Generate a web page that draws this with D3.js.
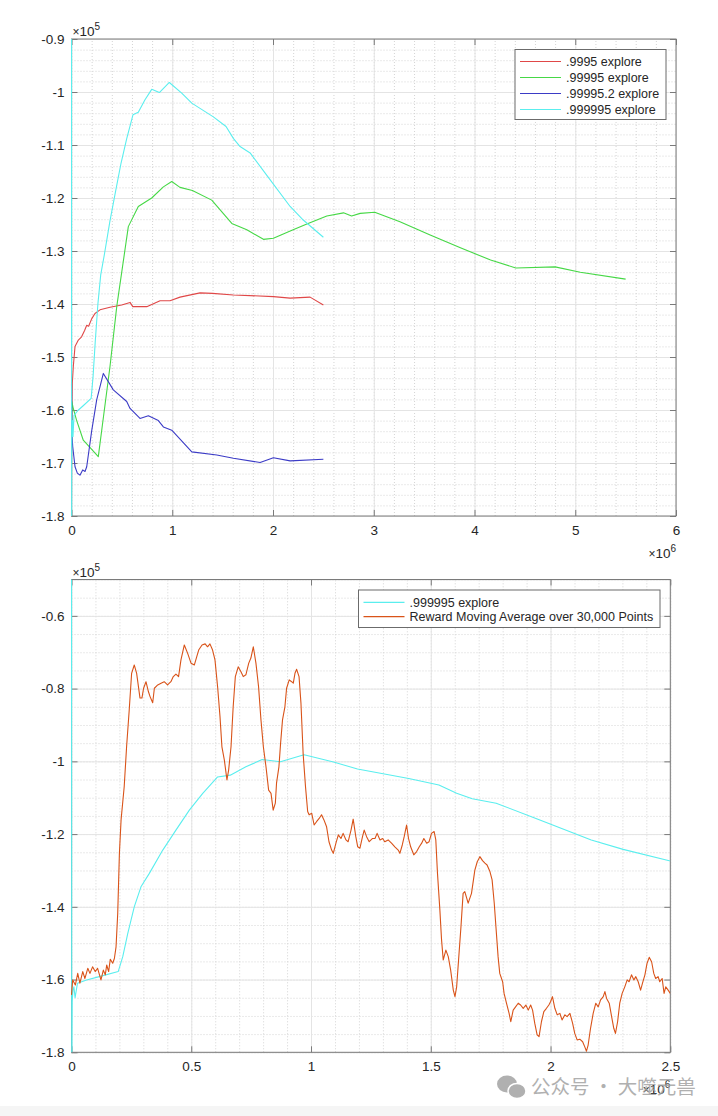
<!DOCTYPE html>
<html>
<head>
<meta charset="utf-8">
<script src="https://cdn.jsdelivr.net/npm/d3@7"></script>
<style>
  body { margin: 0; background: #fff; }
  svg { display: block; font-family: "Liberation Sans", Arial, Helvetica, sans-serif; }
</style>
</head>
<body>
<script>
// x values in units of 1e6 steps, y values in units of 1e5 reward

// top plot ticks
var topXTicks = [0, 1, 2, 3, 4, 5, 6];
var topYTicks = [-1.8, -1.7, -1.6, -1.5, -1.4, -1.3, -1.2, -1.1, -1, -0.9];
// bottom plot ticks
var botXTicks = [0, 0.5, 1, 1.5, 2, 2.5];
var botYTicks = [-1.8, -1.6, -1.4, -1.2, -1, -0.8, -0.6];

var topLegend = [".9995 explore", ".99995 explore", ".99995.2 explore", ".999995 explore"];
var botLegend = [".999995 explore", "Reward Moving Average over 30,000 Points"];

var explore9995 = [[0,-1.8],[0.003,-1.62],[0.008,-1.55],[0.018,-1.518],[0.035,-1.48],[0.068,-1.468],
  [0.1,-1.462],[0.13,-1.45],[0.151,-1.44],[0.17,-1.442],[0.2,-1.428],[0.233,-1.418],[0.283,-1.411],
  [0.382,-1.406],[0.498,-1.402],[0.581,-1.397],[0.608,-1.405],[0.747,-1.405],[0.879,-1.394],
  [0.978,-1.394],[1.077,-1.387],[1.276,-1.379],[1.4,-1.38],[1.607,-1.383],[2.004,-1.386],
  [2.17,-1.389],[2.368,-1.387],[2.5,-1.402]];

var explore99995 = [[0,-1.65],[0.004,-1.584],[0.015,-1.595],[0.05,-1.619],[0.117,-1.657],[0.266,-1.688],
  [0.382,-1.518],[0.449,-1.405],[0.564,-1.254],[0.663,-1.216],[0.796,-1.2],[0.912,-1.179],[0.995,-1.169],
  [1.077,-1.18],[1.2,-1.186],[1.392,-1.204],[1.591,-1.248],[1.74,-1.26],[1.905,-1.278],[2.004,-1.276],[2.2,-1.26],
  [2.336,-1.249],[2.534,-1.234],[2.7,-1.228],[2.78,-1.234],[2.865,-1.229],[3.01,-1.227],[3.26,-1.245],
  [3.56,-1.27],[3.86,-1.294],[4.16,-1.317],[4.41,-1.332],[4.8,-1.33],[5.05,-1.34],[5.5,-1.353]];

var explore99995_2 = [[0,-1.55],[0.002,-1.6],[0.004,-1.644],[0.012,-1.669],[0.035,-1.707],[0.058,-1.719],
  [0.084,-1.723],[0.111,-1.713],[0.134,-1.716],[0.151,-1.707],[0.2,-1.64],[0.25,-1.581],[0.316,-1.531],
  [0.415,-1.562],[0.548,-1.584],[0.581,-1.597],[0.68,-1.616],[0.763,-1.611],[0.862,-1.62],[0.912,-1.632],
  [0.995,-1.638],[1.194,-1.679],[1.442,-1.685],[1.607,-1.691],[1.872,-1.699],[2.004,-1.69],[2.17,-1.696],
  [2.5,-1.693]];

var explore999995 = [[0,-0.3],[0.001,-1.9],[0.003,-1.66],[0.006,-1.63],[0.01,-1.62],[0.015,-1.65],
  [0.025,-1.61],[0.063,-1.601],[0.116,-1.592],[0.195,-1.578],[0.214,-1.537],[0.235,-1.473],[0.262,-1.4],
  [0.29,-1.345],[0.325,-1.308],[0.381,-1.244],[0.436,-1.189],[0.492,-1.134],[0.548,-1.088],[0.61,-1.043],
  [0.663,-1.038],[0.728,-1.015],[0.796,-0.995],[0.872,-1.001],[0.971,-0.982],[1.094,-1.002],[1.194,-1.021],
  [1.408,-1.047],[1.534,-1.065],[1.608,-1.088],[1.673,-1.103],[1.773,-1.115],[1.95,-1.16],[2.17,-1.216],
  [2.303,-1.242],[2.5,-1.274]];

var rewardMovingAvg = [[0,-1.642],[0.005,-1.601],[0.016,-1.615],[0.026,-1.583],[0.035,-1.61],[0.047,-1.578],
  [0.056,-1.597],[0.068,-1.569],[0.077,-1.583],[0.088,-1.565],[0.099,-1.578],[0.109,-1.569],[0.123,-1.601],
  [0.133,-1.574],[0.141,-1.587],[0.147,-1.56],[0.155,-1.578],[0.162,-1.544],[0.172,-1.555],[0.179,-1.542],
  [0.186,-1.51],[0.193,-1.418],[0.2,-1.253],[0.207,-1.161],[0.22,-1.07],[0.23,-0.96],[0.241,-0.859],
  [0.251,-0.758],[0.262,-0.735],[0.272,-0.758],[0.286,-0.826],[0.294,-0.826],[0.301,-0.799],[0.311,-0.781],
  [0.321,-0.808],[0.328,-0.822],[0.339,-0.839],[0.346,-0.799],[0.36,-0.79],[0.374,-0.785],[0.387,-0.781],
  [0.401,-0.79],[0.415,-0.781],[0.425,-0.767],[0.436,-0.76],[0.447,-0.767],[0.457,-0.721],[0.471,-0.68],
  [0.485,-0.703],[0.499,-0.73],[0.513,-0.735],[0.523,-0.712],[0.531,-0.694],[0.545,-0.68],[0.558,-0.677],
  [0.568,-0.685],[0.578,-0.677],[0.589,-0.694],[0.599,-0.721],[0.61,-0.795],[0.62,-0.877],[0.628,-0.96],
  [0.638,-0.996],[0.649,-1.051],[0.656,-1.024],[0.666,-0.96],[0.675,-0.85],[0.684,-0.767],[0.696,-0.74],
  [0.707,-0.753],[0.717,-0.767],[0.728,-0.762],[0.74,-0.73],[0.749,-0.716],[0.759,-0.685],[0.77,-0.73],
  [0.781,-0.795],[0.791,-0.886],[0.801,-0.96],[0.812,-1.015],[0.823,-1.079],[0.833,-1.088],[0.842,-1.134],
  [0.851,-1.115],[0.856,-1.06],[0.866,-1.015],[0.873,-0.95],[0.881,-0.886],[0.891,-0.85],[0.898,-0.799],
  [0.909,-0.776],[0.919,-0.781],[0.926,-0.785],[0.933,-0.758],[0.94,-0.747],[0.95,-0.767],[0.958,-0.84],
  [0.967,-0.978],[0.977,-1.07],[0.986,-1.138],[0.992,-1.147],[1.003,-1.143],[1.013,-1.175],[1.023,-1.166],
  [1.034,-1.157],[1.044,-1.147],[1.054,-1.161],[1.065,-1.18],[1.075,-1.221],[1.086,-1.244],[1.093,-1.253],
  [1.104,-1.225],[1.114,-1.202],[1.125,-1.212],[1.134,-1.198],[1.146,-1.216],[1.155,-1.221],[1.167,-1.189],
  [1.176,-1.159],[1.187,-1.207],[1.195,-1.235],[1.204,-1.239],[1.215,-1.207],[1.222,-1.189],[1.232,-1.207],
  [1.243,-1.221],[1.257,-1.212],[1.267,-1.212],[1.276,-1.198],[1.288,-1.216],[1.299,-1.212],[1.308,-1.221],
  [1.322,-1.216],[1.336,-1.225],[1.35,-1.235],[1.364,-1.244],[1.371,-1.253],[1.381,-1.23],[1.389,-1.207],
  [1.399,-1.175],[1.407,-1.212],[1.416,-1.235],[1.429,-1.257],[1.441,-1.248],[1.452,-1.235],[1.462,-1.225],
  [1.471,-1.212],[1.483,-1.225],[1.493,-1.221],[1.503,-1.198],[1.514,-1.193],[1.521,-1.216],[1.528,-1.308],
  [1.538,-1.409],[1.545,-1.491],[1.552,-1.546],[1.563,-1.519],[1.573,-1.537],[1.583,-1.574],[1.594,-1.629],
  [1.601,-1.647],[1.608,-1.62],[1.617,-1.537],[1.626,-1.455],[1.635,-1.363],[1.642,-1.358],[1.656,-1.39],
  [1.67,-1.363],[1.684,-1.299],[1.694,-1.276],[1.705,-1.262],[1.716,-1.273],[1.726,-1.28],[1.735,-1.285],
  [1.747,-1.303],[1.756,-1.326],[1.765,-1.39],[1.772,-1.455],[1.781,-1.537],[1.788,-1.583],[1.8,-1.606],
  [1.806,-1.638],[1.816,-1.665],[1.827,-1.693],[1.834,-1.716],[1.844,-1.684],[1.854,-1.675],[1.865,-1.665],
  [1.875,-1.67],[1.886,-1.679],[1.897,-1.67],[1.907,-1.684],[1.917,-1.67],[1.925,-1.684],[1.934,-1.72],
  [1.944,-1.752],[1.952,-1.757],[1.962,-1.716],[1.972,-1.688],[1.983,-1.679],[1.993,-1.67],[2.0,-1.661],
  [2.008,-1.647],[2.018,-1.679],[2.028,-1.697],[2.039,-1.693],[2.048,-1.711],[2.06,-1.697],[2.069,-1.702],
  [2.081,-1.693],[2.092,-1.72],[2.101,-1.748],[2.111,-1.766],[2.122,-1.764],[2.134,-1.771],[2.143,-1.785],
  [2.15,-1.797],[2.157,-1.78],[2.167,-1.734],[2.178,-1.693],[2.189,-1.665],[2.199,-1.675],[2.209,-1.656],
  [2.22,-1.647],[2.227,-1.633],[2.234,-1.652],[2.245,-1.665],[2.255,-1.702],[2.264,-1.734],[2.271,-1.748],
  [2.28,-1.716],[2.289,-1.665],[2.299,-1.638],[2.31,-1.62],[2.32,-1.601],[2.328,-1.606],[2.338,-1.587],
  [2.348,-1.601],[2.356,-1.592],[2.366,-1.606],[2.376,-1.629],[2.384,-1.61],[2.394,-1.587],[2.403,-1.555],
  [2.412,-1.539],[2.422,-1.551],[2.431,-1.583],[2.439,-1.597],[2.449,-1.592],[2.456,-1.606],[2.466,-1.597],
  [2.474,-1.638],[2.481,-1.62],[2.491,-1.629],[2.5,-1.638]];

var red = "#e04848", green = "#46d846", blue = "#3b3bc6", cyan = "#5aeeee", orange = "#d95319";
var axisCol = "#7a7a7a", textCol = "#262626";

var width = 718, height = 1116;

// plain hyphen minus like MATLAB, not d3's unicode minus
var fmt = function(d) { return String(d); };

var svg = d3.select("body").append("svg")
    .attr("width", width)
    .attr("height", height);

svg.append("rect").attr("width", width).attr("height", height).attr("fill", "#fff");
svg.append("rect").attr("y", 1106).attr("width", width).attr("height", 10).attr("fill", "#f5f5f5");

function drawPanel(cfg) {
  var x = d3.scaleLinear().domain(cfg.xDomain).range([cfg.left, cfg.right]);
  var y = d3.scaleLinear().domain(cfg.yDomain).range([cfg.bottom, cfg.top]);
  var w = cfg.right - cfg.left, h = cfg.bottom - cfg.top;
  var g = svg.append("g");

  // minor grid (dotted)
  g.append("g").attr("transform", "translate(0," + cfg.bottom + ")")
    .call(d3.axisBottom(x).tickValues(cfg.xMinor).tickSize(-h).tickFormat(""))
    .call(s => s.select(".domain").remove())
    .selectAll("line").attr("stroke", "#d4d4d4").attr("stroke-dasharray", "1,2");
  g.append("g").attr("transform", "translate(" + cfg.left + ",0)")
    .call(d3.axisLeft(y).tickValues(cfg.yMinor).tickSize(-w).tickFormat(""))
    .call(s => s.select(".domain").remove())
    .selectAll("line").attr("stroke", "#d4d4d4").attr("stroke-dasharray", "1,2");

  // major grid
  g.append("g").attr("transform", "translate(0," + cfg.bottom + ")")
    .call(d3.axisBottom(x).tickValues(cfg.xTicks).tickSize(-h).tickFormat(""))
    .call(s => s.select(".domain").remove())
    .selectAll("line").attr("stroke", "#e4e4e4");
  g.append("g").attr("transform", "translate(" + cfg.left + ",0)")
    .call(d3.axisLeft(y).tickValues(cfg.yTicks).tickSize(-w).tickFormat(""))
    .call(s => s.select(".domain").remove())
    .selectAll("line").attr("stroke", "#e4e4e4");

  // box
  g.append("rect")
    .attr("x", cfg.left).attr("y", cfg.top).attr("width", w).attr("height", h)
    .attr("fill", "none").attr("stroke", axisCol);

  // tick marks + labels
  var xb = g.append("g").attr("transform", "translate(0," + cfg.bottom + ")")
    .call(d3.axisBottom(x).tickValues(cfg.xTicks).tickSize(-6).tickPadding(9).tickFormat(fmt));
  var xt = g.append("g").attr("transform", "translate(0," + cfg.top + ")")
    .call(d3.axisTop(x).tickValues(cfg.xTicks).tickSize(-6).tickFormat(""));
  var yl = g.append("g").attr("transform", "translate(" + cfg.left + ",0)")
    .call(d3.axisLeft(y).tickValues(cfg.yTicksLabelled).tickSize(-6).tickPadding(7).tickFormat(fmt));
  var yr = g.append("g").attr("transform", "translate(" + cfg.right + ",0)")
    .call(d3.axisRight(y).tickValues(cfg.yTicksLabelled).tickSize(-6).tickFormat(""));
  [xb, xt, yl, yr].forEach(function(a) {
    a.select(".domain").remove();
    a.selectAll("line").attr("stroke", axisCol);
    a.selectAll("text").attr("fill", textCol).attr("font-size", 13.5)
      .attr("font-family", "'Liberation Sans', Arial, sans-serif");
  });

  // exponent labels
  var ty = g.append("text").attr("x", cfg.left + 1).attr("y", cfg.top - 3)
    .attr("font-size", 13.5).attr("fill", textCol);
  ty.append("tspan").text("\u00d7").attr("font-size", 12);
  ty.append("tspan").text("10");
  ty.append("tspan").text(cfg.yExp).attr("font-size", 10).attr("dy", -6);

  var tx = g.append("text").attr("x", cfg.right).attr("y", cfg.bottom + 42)
    .attr("text-anchor", "end").attr("font-size", 13.5).attr("fill", textCol);
  tx.append("tspan").text("\u00d7").attr("font-size", 12);
  tx.append("tspan").text("10");
  tx.append("tspan").text(cfg.xExp).attr("font-size", 10).attr("dy", -6);

  // data lines
  var clipId = "clip" + cfg.id;
  svg.append("clipPath").attr("id", clipId).append("rect")
    .attr("x", cfg.left - 1).attr("y", cfg.top).attr("width", w + 1).attr("height", h);

  var line = d3.line().x(d => x(d[0])).y(d => y(d[1]));
  var lines = g.append("g").attr("clip-path", "url(#" + clipId + ")");
  cfg.series.forEach(function(s) {
    lines.append("path")
      .datum(s.data)
      .attr("d", line)
      .attr("fill", "none")
      .attr("stroke", s.color)
      .attr("stroke-width", 1.1)
      .attr("stroke-linejoin", "round");
  });

  // legend
  var L = cfg.legend;
  var lg = g.append("g");
  lg.append("rect").attr("x", L.x).attr("y", L.y).attr("width", L.w).attr("height", L.h)
    .attr("fill", "#fff").attr("stroke", "#6b6b6b");
  cfg.series.forEach(function(s, i) {
    var yy = L.y + L.first + i * L.step;
    lg.append("line").attr("x1", L.x + 5).attr("x2", L.x + 46).attr("y1", yy).attr("y2", yy)
      .attr("stroke", s.color).attr("stroke-width", 1.2);
    lg.append("text").attr("x", L.x + 51).attr("y", yy).attr("dy", "0.35em")
      .attr("font-size", 12.5).attr("fill", textCol).text(s.label);
  });
}

drawPanel({
  id: "top",
  left: 71.5, right: 676, top: 39, bottom: 516,
  xDomain: [0, 6], yDomain: [-1.8, -0.9],
  xTicks: topXTicks, yTicks: topYTicks, yTicksLabelled: topYTicks,
  xMinor: d3.range(0, 6.001, 0.2), yMinor: d3.range(-1.8, -0.899, 0.02),
  xExp: "6", yExp: "5",
  series: [
    { data: explore9995, color: red, label: topLegend[0] },
    { data: explore99995, color: green, label: topLegend[1] },
    { data: explore99995_2, color: blue, label: topLegend[2] },
    { data: explore999995, color: cyan, label: topLegend[3] }
  ],
  legend: { x: 515, y: 49.5, w: 151, h: 70, first: 12, step: 16 }
});

drawPanel({
  id: "bot",
  left: 71.5, right: 670.3, top: 579.5, bottom: 1052.3,
  xDomain: [0, 2.5], yDomain: [-1.8, -0.5],
  xTicks: botXTicks, yTicks: botYTicks.concat([-0.5]), yTicksLabelled: botYTicks,
  xMinor: d3.range(0, 2.501, 0.1), yMinor: d3.range(-1.8, -0.499, 0.05),
  xExp: "6", yExp: "5",
  series: [
    { data: explore999995, color: cyan, label: botLegend[0] },
    { data: rewardMovingAvg, color: orange, label: botLegend[1] }
  ],
  legend: { x: 358.5, y: 590, w: 301.5, h: 37.5, first: 12.3, step: 14.4 }
});

// watermark
var wm = svg.append("g").attr("opacity", 0.85);
wm.append("ellipse").attr("cx", 507).attr("cy", 1084).attr("rx", 10).attr("ry", 8.5).attr("fill", "#a3a3a3");
wm.append("ellipse").attr("cx", 517).attr("cy", 1091).attr("rx", 9).attr("ry", 7.5)
  .attr("fill", "#a3a3a3").attr("stroke", "#fff").attr("stroke-width", 1.5);
wm.append("text").attr("x", 531).attr("y", 1094)
  .attr("font-family", "'Noto Sans CJK SC', sans-serif").attr("font-size", 19.5)
  .attr("fill", "#a3a3a3").text("公众号 · 大噬元兽");
</script>
</body>
</html>
